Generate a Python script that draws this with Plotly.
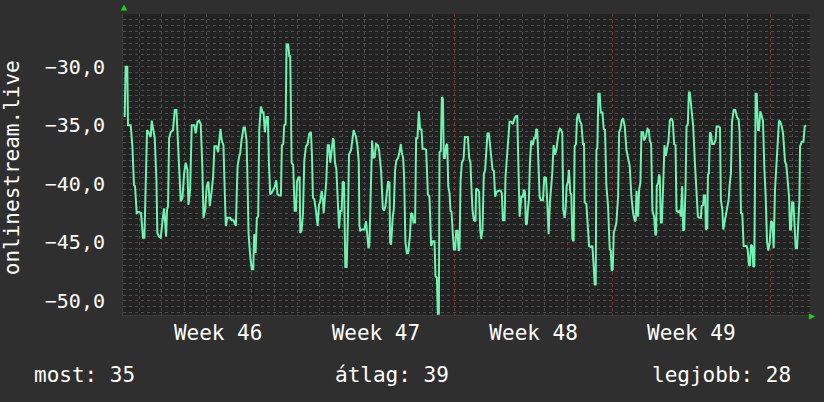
import datetime as dt
import plotly.graph_objects as go

# hours after the left edge of the chart, and the signal value read at that time
hours = [
    1.8, 2.8, 4.6, 5.3, 8.2, 10.0, 11.7, 12.8, 14.6, 17.1, 19.2, 21.3, 22.8, 23.8, 25.6, 27.7,
    29.5, 30.6, 32.4, 33.8, 35.6, 36.6, 38.4, 40.2, 42.0, 43.7, 44.8, 45.9, 46.9, 48.0, 49.1, 50.8,
    53.3, 55.1, 56.9, 58.0, 59.7, 61.5, 63.3, 65.1, 66.8, 68.6, 69.7, 71.5, 73.2, 76.1, 77.5, 79.3,
    81.1, 82.8, 84.6, 85.7, 87.5, 89.2, 91.0, 92.4, 94.2, 96.0, 97.4, 99.6, 101.3, 102.4, 103.8, 105.2,
    107.0, 108.1, 109.5, 111.3, 114.1, 115.6, 117.7, 120.2, 122.0, 123.7,
    124.8, 126.2, 128.4, 129.8, 131.6, 132.6, 133.7, 135.5, 137.2, 138.7, 139.7, 141.2, 142.6, 144.0,
    145.1, 146.8, 148.6, 149.7, 151.1, 152.9, 154.3, 155.4, 156.8, 158.2, 160.0, 161.8, 163.2, 164.6,
    166.4, 168.2, 169.2, 170.7, 171.7, 173.2, 174.2, 176.0, 177.1, 178.1, 179.6, 181.3, 182.8, 184.2,
    185.3, 186.7, 188.1, 188.8, 190.2, 191.7, 193.1, 194.9, 196.6, 198.4, 200.2, 201.3, 202.3, 203.7,
    205.5, 207.3, 208.7, 210.1, 211.6, 213.0, 213.7, 215.1, 216.5, 218.0, 219.4, 220.8, 222.2, 223.7,
    224.4, 225.8, 227.2, 228.6, 230.1, 231.5, 232.9, 234.0, 235.4, 236.8, 238.2, 239.7, 240.7, 242.9,
    244.3, 245.7,
    246.4, 248.2, 249.6, 251.1, 251.8, 252.8, 254.6, 257.1, 258.9, 260.0, 261.4, 262.4, 263.5, 264.6,
    265.3, 266.7, 268.1, 269.5, 271.3, 272.7, 274.9, 276.7, 278.1, 279.5, 280.9, 282.3, 283.8, 284.5,
    285.5, 286.3, 287.3, 288.4, 289.8, 291.2, 293.0, 294.4, 295.9, 296.9, 298.4, 299.4, 300.8, 302.3,
    303.7, 305.5, 306.9, 308.3, 309.4, 311.1, 312.2, 313.6, 315.1, 316.5, 317.9, 319.0, 320.8, 322.9,
    324.7, 326.4, 328.2, 330.0, 331.8, 332.8, 334.3, 335.3, 336.4, 337.1, 338.5, 339.6, 340.7, 341.7,
    342.8, 344.2, 345.3, 346.4, 347.8, 348.8, 349.9, 351.3, 352.4, 353.8, 354.9, 356.3, 357.4, 358.4,
    359.5, 360.9, 362.7, 364.1, 366.3,
    367.3, 368.7, 370.1, 370.8, 372.2, 373.7, 375.4, 376.1, 377.9, 379.3, 380.4, 381.5, 382.9, 384.3,
    385.7, 386.8, 388.2, 389.7, 390.7, 392.1, 393.6, 395.0, 396.4, 397.8, 400.0, 402.1, 403.5, 404.6,
    406.4, 407.4, 408.9, 409.9, 411.7, 413.5, 415.3, 417.0, 418.8, 419.9, 421.3, 422.4, 424.2, 425.9,
    427.0, 428.1, 429.1, 430.2, 431.3, 432.3, 433.4, 434.8, 436.6, 437.7, 439.1, 440.2, 441.2, 441.9,
    443.7, 445.1, 447.3, 448.7, 450.5, 451.9, 453.3, 454.7, 455.8, 457.2, 458.6, 460.1, 461.5, 462.5,
    464.0, 465.4, 466.8, 467.9, 468.9, 470.4, 471.4, 472.5, 473.9, 475.0, 476.4, 477.5, 478.6, 480.0,
    481.0, 482.5, 483.5, 485.0, 486.4, 488.2, 489.9, 491.0,
    491.7, 493.5, 494.9, 496.4, 498.1, 499.9, 501.3, 502.4, 503.5, 504.2, 505.2, 506.3, 507.7, 508.8,
    510.6, 512.0, 513.4, 514.8, 516.6, 518.4, 519.5, 520.5, 521.6, 522.7, 524.1, 525.5, 527.3, 528.4,
    529.8, 531.2, 532.6, 534.4, 536.2, 538.0, 539.7, 541.5, 543.3, 545.1, 546.1, 546.9, 548.6, 549.7,
    551.1, 552.2, 554.0, 555.0, 556.8, 558.6, 560.0, 561.1, 562.5, 563.9, 565.7, 567.1, 567.8, 568.5,
    570.0, 571.0, 571.7, 572.8, 573.9, 575.3, 576.7, 578.1, 579.6, 581.0, 582.4, 584.2, 585.6, 587.0,
    588.5, 589.5, 591.3, 593.1, 594.1, 595.6, 596.6, 597.7, 599.1, 600.2, 601.6, 602.7, 603.7, 604.8,
    605.9, 607.3, 609.1, 610.9, 612.3, 613.7,
    615.5, 616.2, 618.0, 618.7, 620.1, 620.8, 622.3, 623.0, 624.0, 625.1, 626.2, 627.6, 629.4, 631.1,
    632.2, 634.0, 635.8, 636.8, 638.3, 639.3, 640.7, 642.2, 643.6, 645.0, 646.1, 647.5, 648.6, 650.4,
    652.1, 653.9, 655.7, 656.7, 658.2, 659.6, 661.0, 662.4, 664.2, 665.3, 666.7, 667.8, 668.8, 670.3,
    671.3, 672.4, 673.8, 674.9, 676.3, 677.4, 678.8, 680.2, 681.6, 683.1, 684.5, 685.9, 687.3, 688.8,
    690.2, 691.6, 693.0, 694.4, 695.9, 697.3, 698.7, 700.1, 701.6, 703.0, 704.0, 705.1, 706.5, 707.9,
    709.4, 710.4, 711.5, 712.6, 714.0, 715.1, 716.5, 717.9, 719.0, 720.4, 721.1, 722.9, 724.7, 726.1,
    727.5,
]

signal = [
    -34.3, -30.0, -30.0, -35.0, -35.0, -36.8, -40.1, -40.2, -42.5, -42.4, -42.5, -44.6, -44.6, -40.8, -35.4, -35.7,
    -36.0, -34.6, -35.4, -36.1, -39.7, -44.2, -44.5, -44.6, -43.2, -42.1, -43.2, -44.5, -42.2, -41.9, -36.1, -35.6,
    -35.4, -33.7, -33.7, -35.8, -38.5, -41.5, -41.2, -39.1, -38.2, -38.8, -41.8, -40.5, -35.0, -35.0, -35.7, -34.7,
    -34.6, -34.9, -38.8, -42.9, -42.2, -40.2, -39.8, -41.9, -40.8, -39.4, -36.8, -36.8, -37.3, -36.6, -35.3, -36.3,
    -36.7, -39.9, -43.6, -42.9, -42.9, -43.1, -43.1, -43.6, -38.5, -37.7,
    -37.4, -36.3, -35.2, -35.2, -36.3, -39.7, -44.2, -46.2, -47.3, -47.3, -44.3, -45.9, -42.9, -42.8,
    -35.4, -33.4, -33.9, -33.9, -35.6, -34.3, -34.3, -38.2, -40.9, -40.8, -40.5, -40.2, -39.7, -40.9,
    -41.0, -41.0, -36.7, -36.6, -35.0, -34.9, -28.1, -28.1, -29.1, -29.1, -38.2, -38.4, -42.3, -42.3,
    -39.8, -39.5, -39.4, -44.2, -44.0, -42.5, -38.0, -36.8, -36.6, -35.7, -35.6, -37.7, -41.2, -41.3,
    -42.3, -43.6, -41.8, -41.5, -40.6, -41.4, -42.5, -41.1, -39.8, -36.7, -36.7, -38.2, -37.4, -36.1,
    -36.3, -38.2, -38.7, -41.1, -43.8, -42.3, -42.3, -39.8, -39.9, -47.1, -47.1, -42.5, -37.5, -37.1,
    -36.3, -35.4,
    -35.6, -36.0, -36.7, -38.1, -43.6, -44.0, -43.9, -43.9, -43.2, -44.0, -45.5, -45.3, -41.6, -39.5,
    -36.3, -37.8, -37.7, -36.6, -36.7, -37.1, -38.9, -42.1, -42.3, -41.9, -40.5, -39.8, -39.9, -45.0,
    -45.2, -43.3, -42.8, -42.2, -38.8, -38.0, -37.8, -37.3, -36.6, -37.3, -37.8, -39.4, -45.0, -45.9,
    -45.9, -44.5, -42.5, -42.6, -43.3, -43.3, -36.1, -36.1, -33.8, -35.4, -35.3, -37.0, -37.0, -37.1,
    -40.9, -41.1, -45.3, -44.9, -44.9, -47.9, -48.0, -51.1, -51.1, -37.3, -37.2, -32.6, -32.7, -37.8,
    -37.8, -36.7, -36.6, -40.2, -40.8, -42.3, -42.4, -44.3, -45.6, -45.6, -44.0, -44.0, -45.7, -45.6,
    -39.8, -38.2, -37.9, -36.0, -36.0,
    -36.0, -37.8, -38.2, -39.8, -42.2, -43.1, -43.2, -40.4, -40.5, -40.7, -43.9, -44.7, -43.9, -39.2,
    -38.8, -37.4, -35.7, -35.7, -36.6, -37.3, -38.8, -38.9, -41.1, -40.7, -40.6, -40.6, -40.8, -43.1,
    -43.1, -39.4, -37.7, -37.4, -34.7, -34.7, -34.9, -34.4, -34.2, -34.2, -39.7, -42.8, -41.1, -41.1,
    -40.5, -40.7, -43.5, -43.4, -42.1, -41.4, -38.2, -36.3, -36.7, -36.1, -36.1, -35.3, -35.4, -36.8,
    -41.1, -41.4, -41.4, -39.4, -39.5, -41.6, -44.3, -41.6, -40.5, -39.1, -36.7, -37.5, -37.1, -36.3,
    -35.6, -35.3, -35.4, -35.7, -42.2, -42.9, -42.2, -40.2, -39.8, -38.8, -40.8, -40.9, -44.7, -44.9,
    -36.8, -36.6, -34.4, -34.0, -34.6, -34.9, -36.6, -36.6,
    -41.6, -41.7, -43.6, -45.3, -45.4, -45.3, -47.0, -48.6, -48.6, -37.1, -36.9, -32.3, -32.3, -33.9,
    -33.9, -35.3, -35.4, -40.1, -41.9, -45.6, -45.7, -47.4, -47.3, -44.2, -43.8, -43.3, -41.1, -35.6,
    -35.3, -34.6, -34.4, -35.1, -37.1, -38.0, -38.5, -41.1, -42.5, -43.2, -43.1, -40.6, -42.8, -40.5,
    -39.9, -35.6, -35.6, -36.3, -36.0, -35.3, -35.4, -36.3, -36.6, -42.3, -42.8, -44.4, -44.3, -40.2,
    -39.9, -39.2, -39.4, -43.3, -43.3, -40.2, -36.7, -37.6, -37.0, -36.3, -34.6, -34.4, -34.7, -36.6,
    -36.7, -42.3, -42.4, -42.3, -42.8, -40.2, -44.0, -43.9, -40.5, -35.1, -34.9, -32.2, -32.2, -33.0,
    -34.0, -35.1, -38.2, -41.4, -42.8, -42.9,
    -42.9, -41.9, -41.8, -41.0, -41.0, -43.9, -43.8, -39.2, -39.1, -35.6, -35.7, -36.6, -36.6, -36.3,
    -35.1, -35.1, -35.2, -41.4, -42.2, -43.9, -43.3, -42.8, -42.2, -41.4, -40.1, -39.1, -34.7, -33.7,
    -33.7, -34.3, -34.5, -35.6, -42.5, -42.6, -45.3, -45.3, -45.3, -45.6, -46.9, -47.0, -45.2, -45.3,
    -47.1, -47.0, -32.3, -32.3, -35.4, -35.4, -33.8, -34.2, -34.6, -38.7, -41.1, -44.9, -45.7, -45.0,
    -43.2, -43.3, -45.5, -40.5, -38.5, -36.6, -34.6, -34.7, -35.1, -35.7, -36.7, -38.1, -38.4, -39.9,
    -41.1, -43.9, -43.9, -41.6, -41.6, -43.3, -45.5, -45.5, -43.0, -41.4, -36.8, -36.4, -36.4, -35.1,
    -35.0,
]

y_ticks = [-50, -45, -40, -35, -30]
axis_title = "onlinestream.live"
summary_labels = ["most: 35", "átlag: 39", "legjobb: 28"]

start = dt.datetime(2023, 11, 12, 6, 40)
span_hours = 731.7
times = [start + dt.timedelta(hours=h) for h in hours]

FONT = "DejaVu Sans Mono"
OUTER = "#2f2f2f"
INNER = "#222222"
MINOR = "#4d4d4d"
MAJOR = "#7a3434"
LINE = "#6ff2b2"
TEXT = "#ffffff"
ARROW = "#22d022"

fig = go.Figure()
fig.add_trace(go.Scatter(
    x=times, y=signal, mode="lines",
    line=dict(color=LINE, width=2),
    hoverinfo="skip", showlegend=False,
))

fig.update_layout(
    width=824, height=402,
    margin=dict(l=123, r=14, t=14, b=87),
    paper_bgcolor=OUTER, plot_bgcolor=INNER,
    separators=", ",
    font=dict(family=FONT, color=TEXT, size=21),
    showlegend=False,
)

fig.update_xaxes(
    type="date",
    range=[start, start + dt.timedelta(hours=span_hours)],
    tick0="2023-11-13", dtick=7 * 86400000,
    ticklabelmode="period", tickformat="Week %V",
    tickfont=dict(family=FONT, size=21, color=TEXT),
    showgrid=True, gridcolor=MAJOR, griddash="dot", gridwidth=1,
    ticks="", ticklabelstandoff=-1,
    minor=dict(tick0="2023-11-13", dtick=86400000, showgrid=True,
               gridcolor=MINOR, griddash="dot", gridwidth=1),
    showline=True, linecolor="#3c3c3c", linewidth=1,
    zeroline=False, fixedrange=True,
)

fig.update_yaxes(
    range=[-51.2, -25.5],
    tickmode="array", tickvals=y_ticks, tickformat=".1f",
    tickfont=dict(family=FONT, size=20, color=TEXT),
    showgrid=True, gridcolor=MAJOR, griddash="dot", gridwidth=1,
    ticks="", ticklabelstandoff=13,
    minor=dict(dtick=0.5, tick0=-50, showgrid=True,
               gridcolor=MINOR, griddash="dot", gridwidth=1),
    showline=True, linecolor="#3c3c3c", linewidth=1,
    zeroline=False, fixedrange=True,
)

# rotated axis title
fig.add_annotation(
    text=axis_title, textangle=-90, showarrow=False,
    xref="paper", yref="paper", x=-0.162, y=0.49,
    xanchor="center", yanchor="middle",
    font=dict(family=FONT, size=21, color=TEXT),
)

# summary line under the chart
summary_x = [-0.133, 0.305, 0.975]
summary_anchor = ["left", "left", "right"]
for label, xp, anc in zip(summary_labels, summary_x, summary_anchor):
    fig.add_annotation(
        text=label, showarrow=False,
        xref="paper", yref="paper", x=xp, y=-0.2,
        xanchor=anc, yanchor="middle",
        font=dict(family=FONT, size=21, color=TEXT),
    )

# axis-end arrows (rrdtool style)
fig.add_annotation(text="▲", showarrow=False, xref="paper", yref="paper",
                   x=0.002, y=1.0, xanchor="center", yanchor="bottom",
                   font=dict(size=10, color=ARROW))
fig.add_annotation(text="▶", showarrow=False, xref="paper", yref="paper",
                   x=0.995, y=0.0, xanchor="left", yanchor="middle",
                   font=dict(size=10, color=ARROW))

fig.write_html(
    "out.html",
    config={"displayModeBar": False},
    post_script="document.body.style.margin='0';document.body.style.background='#2f2f2f';",
)
